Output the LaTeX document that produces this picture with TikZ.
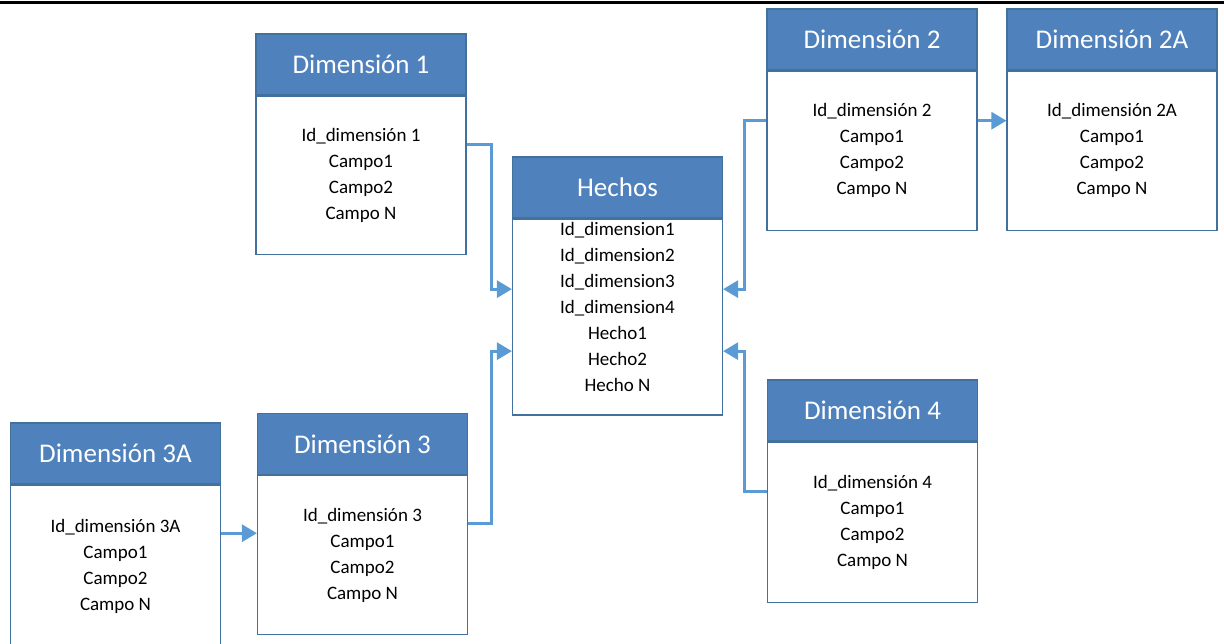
\documentclass[tikz,border=0pt]{standalone}
\usepackage{fontspec}
\setmainfont{Carlito}
\usetikzlibrary{arrows.meta, positioning}
\definecolor{headblue}{RGB}{79,129,189}
\definecolor{boxline}{RGB}{65,113,156}
\definecolor{linkblue}{RGB}{91,155,213}
\tikzset{
    tablehead/.style={
        rectangle, draw=boxline, fill=headblue, text=white, line width=1.2pt,
        minimum width=210pt, minimum height=61pt,
        font=\fontsize{27}{30}\selectfont
    },
    tablebody/.style={
        rectangle, draw=boxline, fill=white, line width=1.2pt, align=center,
        minimum width=210pt, font=\fontsize{19}{26}\selectfont
    },
    link/.style={
        draw=linkblue, line width=3pt,
        -{Triangle[length=15pt, width=17pt]}
    }
}

\begin{document}
\begin{tikzpicture}[x=1pt, y=-1pt]

    \useasboundingbox (0,0) rectangle (1224,643);
    \draw[line width=3pt] (0,2) -- (1224,2);

    % tablas
    \node[tablehead] (dimAhead) at (361,64.5) {Dimensión 1};
    \node[tablebody, minimum height=158pt, below=0pt of dimAhead] (dimA)
        {Id\_dimensión 1\\Campo1\\Campo2\\Campo N};

    \node[tablehead] (dimBhead) at (872,39.5) {Dimensión 2};
    \node[tablebody, minimum height=159pt, below=0pt of dimBhead] (dimB)
        {Id\_dimensión 2\\Campo1\\Campo2\\Campo N};

    \node[tablehead] (dimBBhead) at (1112,39.5) {Dimensión 2A};
    \node[tablebody, minimum height=159pt, below=0pt of dimBBhead] (dimBB)
        {Id\_dimensión 2A\\Campo1\\Campo2\\Campo N};

    \node[tablehead] (hechoshead) at (617.5,187.5) {Hechos};
    \node[tablebody, minimum height=195pt, below=0pt of hechoshead] (hechos)
        {Id\_dimension1\\Id\_dimension2\\Id\_dimension3\\Id\_dimension4\\Hecho1\\Hecho2\\Hecho N\\[-6pt]\mbox{}};

    \node[tablehead] (dimDhead) at (872.5,410.5) {Dimensión 4};
    \node[tablebody, minimum height=160pt, below=0pt of dimDhead] (dimD)
        {Id\_dimensión 4\\Campo1\\Campo2\\Campo N};

    \node[tablehead] (dimChead) at (362.5,444) {Dimensión 3};
    \node[tablebody, minimum height=159pt, below=0pt of dimChead] (dimC)
        {Id\_dimensión 3\\Campo1\\Campo2\\Campo N};

    \node[tablehead] (dimCChead) at (115.5,453.5) {Dimensión 3A};
    \node[tablebody, minimum height=162pt, below=0pt of dimCChead] (dimCC)
        {Id\_dimensión 3A\\Campo1\\Campo2\\Campo N};

    % enlaces
    \coordinate (dimCCout) at ([yshift=33pt]dimCC.east);

    \draw[link]
    ([yshift=31pt]dimA.east)
    -- ++(25,0)
    |- ([yshift=28pt]hechos.west);

    \draw[link]
    ([yshift=32pt]dimC.east)
    -- ++(23,0)
    |- ([yshift=-34pt]hechos.west);

    \draw[link]
    ([yshift=30pt]dimB.west)
    -- ++(-22,0)
    |- ([yshift=28pt]hechos.east);

    \draw[link]
    ([yshift=31pt]dimD.west)
    -- ++(-22,0)
    |- ([yshift=-34pt]hechos.east);

    \draw[link]
    ([yshift=30pt]dimB.east)
    -- ([yshift=30pt]dimBB.west);

    \draw[link]
    (dimCCout)
    -- (dimCCout -| dimC.west);

\end{tikzpicture}
\end{document}
